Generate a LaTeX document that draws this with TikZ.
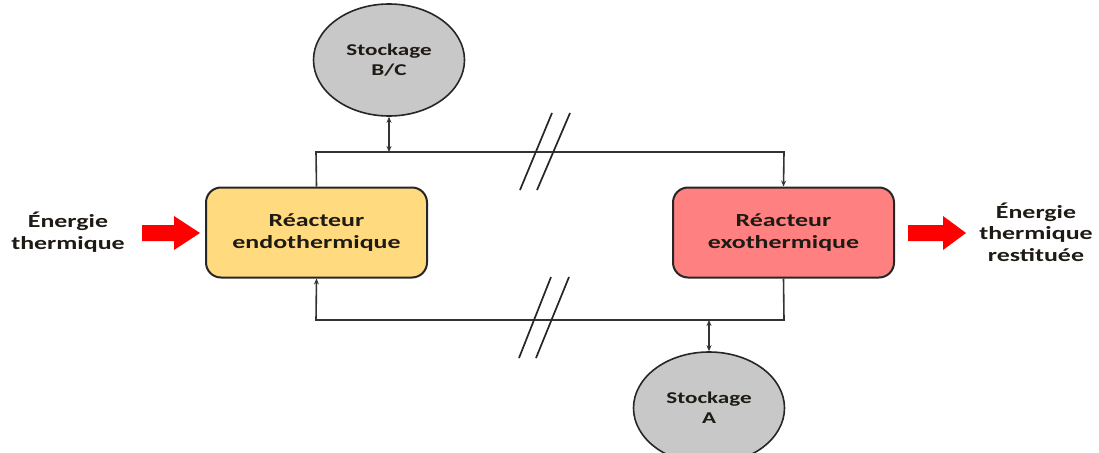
\documentclass[tikz,border=0pt]{standalone}
\usepackage{fontspec}
\setmainfont{Carlito}[FakeStretch=1.4]
\usetikzlibrary{arrows.meta,shapes.geometric}
\definecolor{endo}{HTML}{FFDA7E}
\definecolor{exo}{HTML}{FF8080}
\definecolor{stock}{HTML}{C8C8C8}
\definecolor{txt}{HTML}{1E1A14}
\tikzset{
  reactor/.style={draw=black!85, line width=2pt, rounded corners=15pt, minimum width=221pt, minimum height=90pt, align=center, text=txt, font=\fontsize{18.5}{21.5}\selectfont\bfseries},
  storage/.style={ellipse, draw=black!85, line width=1.6pt, fill=stock, minimum width=151pt, minimum height=112pt, align=center, text=txt, font=\fontsize{16.5}{20}\selectfont\bfseries},
  flow/.style={draw=black!80, line width=1.6pt},
  tip/.style={-{Stealth[length=6pt,width=5pt]}},
  dtip/.style={{Stealth[length=6pt,width=5pt]}-{Stealth[length=6pt,width=5pt]}},
  brk/.style={draw=black!85, line width=1.7pt},
  redfill/.style={fill=red, draw=none},
  label/.style={align=center, text=txt, font=\fontsize{18.5}{21.5}\selectfont\bfseries}
}
\begin{document}
\begin{tikzpicture}[x=1pt,y=-1pt]
\useasboundingbox (0,0) rectangle (1099,452);
\node[storage] (sbc) at (389,60) {Stockage\\B/C};
\node[storage] (sa) at (709,408) {Stockage\\A};
\node[reactor, fill=endo] (endo) at (316.5,232.5) {Réacteur\\endothermique};
\node[reactor, fill=exo] (exo) at (783.5,232.5) {Réacteur\\exothermique};
\node[label] (lin) at (68,232) {Énergie\\thermique};
\node[label] (lout) at (1036,232) {Énergie\\thermique\\restituée};
% red block arrows
\coordinate (ain) at (142,233);
\coordinate (aout) at (908,233);
\fill[redfill] (ain) ++(0,-8) -- ++(32,0) -- ++(0,-9) -- ++(26,17) -- ++(-26,17) -- ++(0,-9) -- ++(-32,0) -- cycle;
\fill[redfill] (aout) ++(0,-8) -- ++(35,0) -- ++(0,-9) -- ++(23,17) -- ++(-23,17) -- ++(0,-9) -- ++(-35,0) -- cycle;
% top loop
\coordinate (t1) at (316,152);
\coordinate (t2) at (784,152);
\coordinate (tm) at (389,152);
\draw[flow,tip] (endo.north) -- (t1) -- (t2) -- (exo.north);
\draw[flow,dtip] (sbc.south) -- (tm);
% bottom loop
\coordinate (b1) at (784,320);
\coordinate (b2) at (316,320);
\coordinate (bm) at (709,320);
\draw[flow,tip] (exo.south) -- (b1) -- (b2) -- (endo.south);
\draw[flow,dtip] (bm) -- (sa.north);
% break marks
\draw[brk] (520,190) -- (552,113);
\draw[brk] (537,190) -- (570,113);
\draw[brk] (519,358) -- (551,277);
\draw[brk] (536,358) -- (569,277);
\end{tikzpicture}
\end{document}
